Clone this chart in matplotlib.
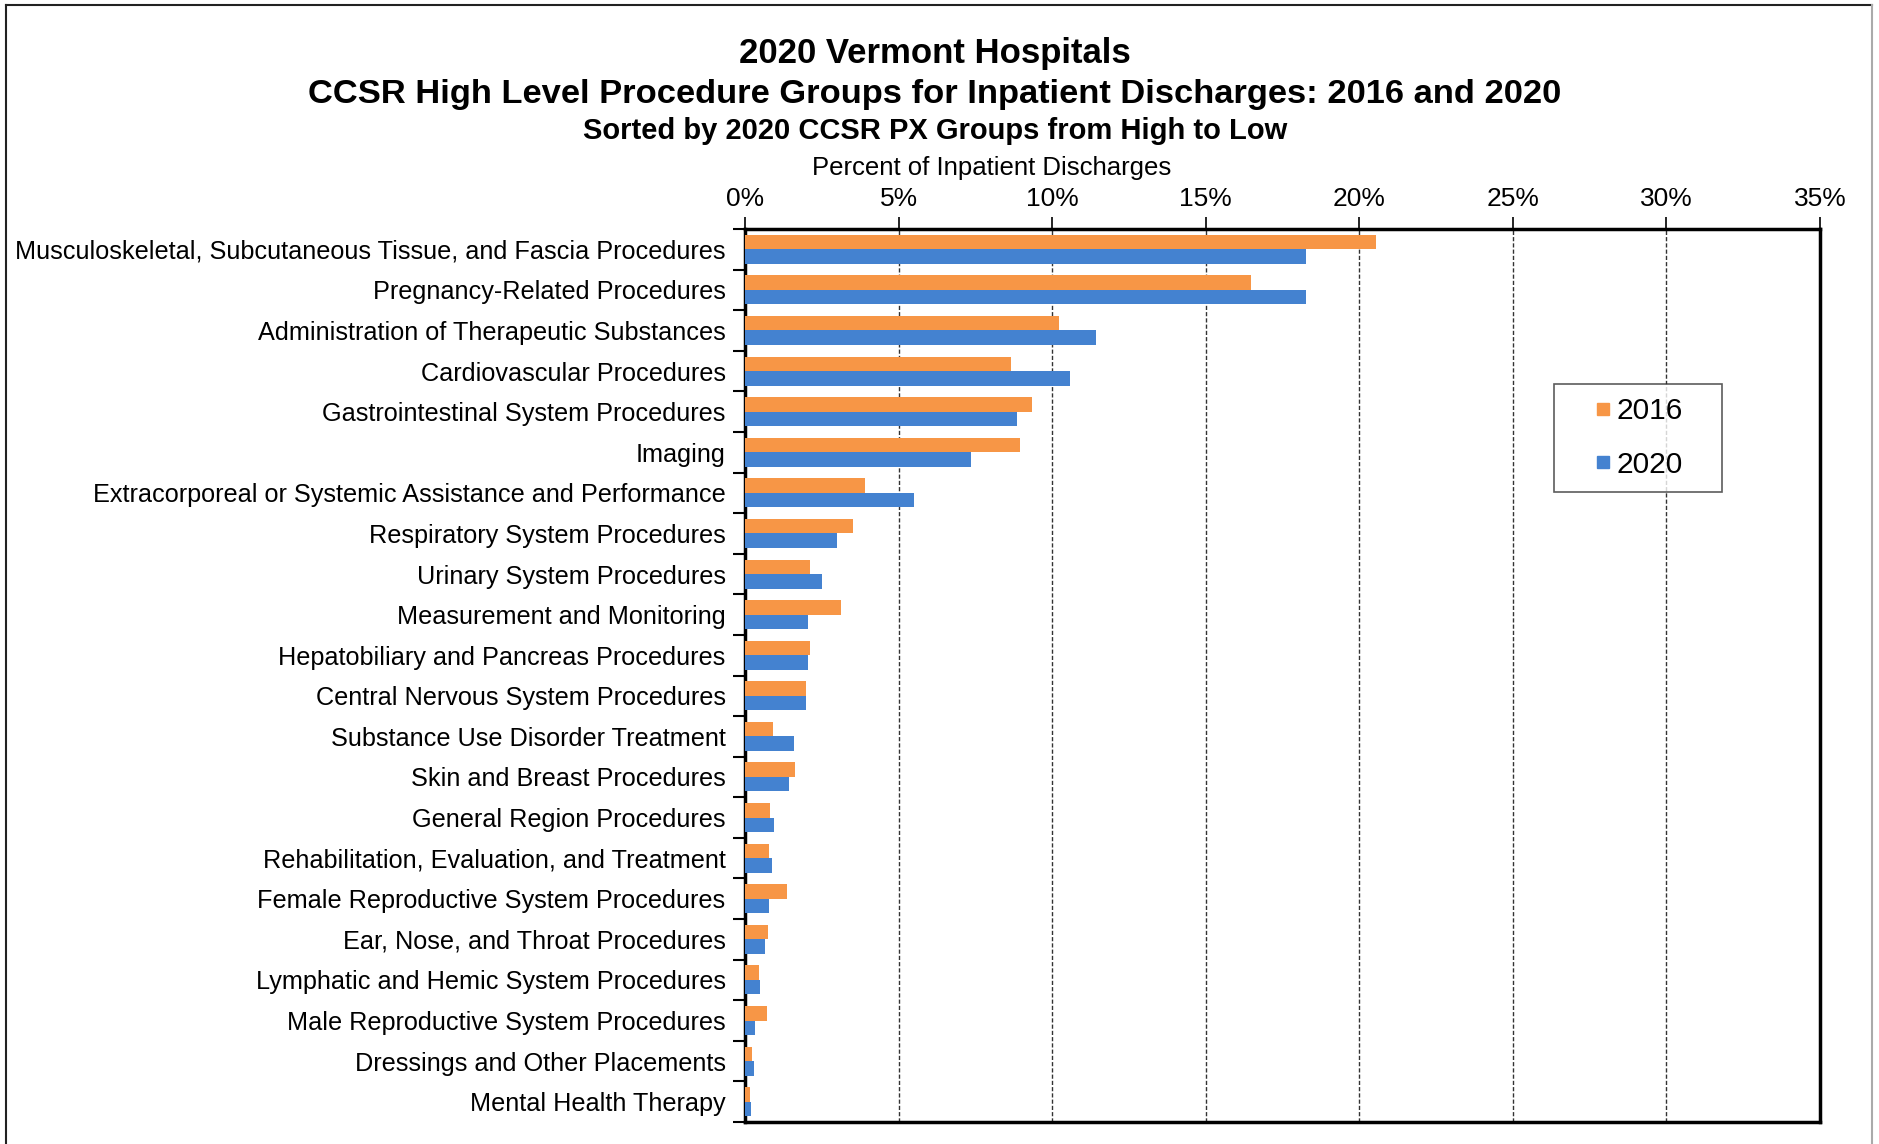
import matplotlib
matplotlib.use("Agg")
import matplotlib.pyplot as plt
import numpy as np
from matplotlib.lines import Line2D
from matplotlib.ticker import FuncFormatter

# procedure groups, top to bottom as in the chart
groups = [
    "Musculoskeletal, Subcutaneous Tissue, and Fascia Procedures",
    "Pregnancy-Related Procedures",
    "Administration of Therapeutic Substances",
    "Cardiovascular Procedures",
    "Gastrointestinal System Procedures",
    "Imaging",
    "Extracorporeal or Systemic Assistance and Performance",
    "Respiratory System Procedures",
    "Urinary System Procedures",
    "Measurement and Monitoring",
    "Hepatobiliary and Pancreas Procedures",
    "Central Nervous System Procedures",
    "Substance Use Disorder Treatment",
    "Skin and Breast Procedures",
    "General Region Procedures",
    "Rehabilitation, Evaluation, and Treatment",
    "Female Reproductive System Procedures",
    "Ear, Nose, and Throat Procedures",
    "Lymphatic and Hemic System Procedures",
    "Male Reproductive System Procedures",
    "Dressings and Other Placements",
    "Mental Health Therapy",
]
pct_2016 = [20.55, 16.47, 10.23, 8.65, 9.36, 8.95, 3.91, 3.50, 2.13, 3.13, 2.13,
            2.00, 0.91, 1.62, 0.83, 0.79, 1.38, 0.75, 0.46, 0.71, 0.24, 0.16]
pct_2020 = [18.26, 18.26, 11.44, 10.57, 8.85, 7.37, 5.50, 3.00, 2.50, 2.04, 2.04,
            2.00, 1.59, 1.42, 0.96, 0.87, 0.79, 0.66, 0.50, 0.33, 0.28, 0.21]
years = ["2016", "2020"]
xticks_pct = [0, 5, 10, 15, 20, 25, 30, 35]

plt.rcParams['font.family'] = ['Liberation Sans', 'DejaVu Sans']

W, H = 1879, 1144
fig = plt.figure(figsize=(W / 100, H / 100), dpi=100)
ax = fig.add_axes([745 / W, 1 - 1122 / H, (1820 - 745) / W, (1122 - 229) / H])

orange = '#F79646'
blue = '#4482D0'
n = len(groups)
y = np.arange(n)
h = 0.357
ax.barh(y - h / 2, pct_2016, height=h, color=orange, label=years[0], zorder=3)
ax.barh(y + h / 2, pct_2020, height=h, color=blue, label=years[1], zorder=3)

ax.set_ylim(n - 0.5, -0.5)
ax.set_xlim(0, 35)

# y ticks: marks between groups, labels at group centers
ax.set_yticks(np.arange(n + 1) - 0.5)
ax.set_yticklabels([])
ax.set_yticks(y, minor=True)
ax.set_yticklabels(groups, minor=True, fontsize=18.2)
ax.tick_params(axis='y', which='major', direction='out', length=9, width=1.5)
ax.tick_params(axis='y', which='minor', length=0, pad=14)

ax.xaxis.tick_top()
ax.set_xticks(xticks_pct)
ax.xaxis.set_major_formatter(FuncFormatter(lambda v, p: f"{v:.0f}%"))
ax.tick_params(axis='x', direction='out', length=9, width=1.2, labelsize=19, pad=4)

ax.grid(axis='x', color='#333333', linestyle=(0, (3, 1.5)), linewidth=1.0, zorder=1)
for s in ax.spines.values():
    s.set_linewidth(2.5)
    s.set_color('black')

# titles
fig.text(935 / W, 1 - 54 / H, "2020 Vermont Hospitals", ha='center', va='center',
         fontsize=25, fontweight='bold')
fig.text(935 / W, 1 - 94 / H,
         "CCSR High Level Procedure Groups for Inpatient Discharges: 2016 and 2020",
         ha='center', va='center', fontsize=24.8, fontweight='bold')
fig.text(935 / W, 1 - 131 / H, "Sorted by 2020 CCSR PX Groups from High to Low",
         ha='center', va='center', fontsize=21, fontweight='bold')
fig.text(992 / W, 1 - 168 / H, "Percent of Inpatient Discharges",
         ha='center', va='center', fontsize=18.5)

# legend
handles = [Line2D([], [], marker='s', linestyle='none', markersize=8.5, color=c)
           for c in (orange, blue)]
leg = fig.legend(handles, years, loc='upper left',
                 bbox_to_anchor=(1554 / W, 1 - 492 / H, 168 / W, 108 / H),
                 mode='expand', borderaxespad=0, fontsize=21.5,
                 frameon=True, fancybox=False, borderpad=0.45, labelspacing=0.85,
                 handlelength=2.4, handletextpad=-0.75)
leg.get_frame().set_edgecolor('#333333')
leg.get_frame().set_linewidth(1.2)

# outer chart border
fig.add_artist(Line2D([6 / W, 6 / W], [0, 1 - 5 / H], transform=fig.transFigure,
                      color='#222222', linewidth=1.5))
fig.add_artist(Line2D([6 / W, 1872 / W], [1 - 5 / H, 1 - 5 / H], transform=fig.transFigure,
                      color='#222222', linewidth=1.5))
fig.add_artist(Line2D([1872 / W, 1872 / W], [0, 1 - 5 / H], transform=fig.transFigure,
                      color='#aaaaaa', linewidth=1.5))

fig.savefig("out.png", dpi=100)
